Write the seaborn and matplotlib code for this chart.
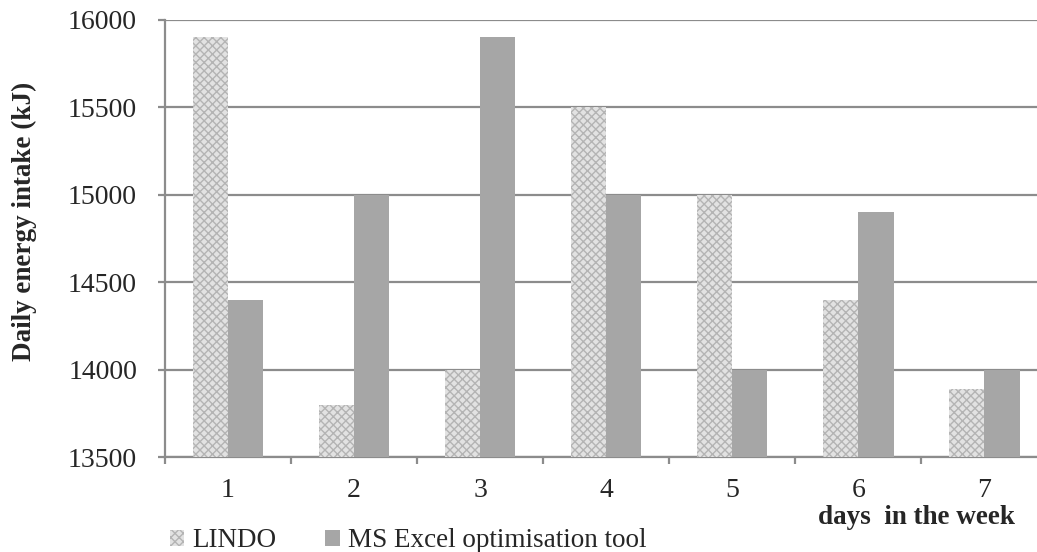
import pandas as pd
import matplotlib
matplotlib.use("Agg")
import matplotlib.pyplot as plt
import seaborn as sns
from matplotlib.patches import Patch

days = ["1", "2", "3", "4", "5", "6", "7"]
lindo = [15900, 13800, 14000, 15500, 15000, 14400, 13890]
excel = [14400, 15000, 15900, 15000, 14000, 14900, 14000]
series_names = ["LINDO", "MS Excel optimisation tool"]
y_ticks = [13500, 14000, 14500, 15000, 15500, 16000]


def main():
    sns.set_style("white")
    plt.rcParams["font.family"] = ["Liberation Serif", "DejaVu Serif"]
    plt.rcParams["hatch.linewidth"] = 1.0

    df = pd.DataFrame({
        "day": days * 2,
        "value": lindo + excel,
        "series": [series_names[0]] * 7 + [series_names[1]] * 7,
    })

    fig = plt.figure(figsize=(10.37, 5.52), dpi=100)
    ax = fig.add_axes([0.159, 0.172, 0.851, 0.792])

    sns.barplot(data=df, x="day", y="value", hue="series",
                palette=["#e2e2e2", "#a6a6a6"], width=0.56,
                saturation=1, legend=False, ax=ax, zorder=3)

    # LINDO bars get the crosshatch pattern
    for bar in ax.patches[:7]:
        bar.set_hatch("xxxx")
        bar.set_edgecolor("#b4b4b4")
        bar.set_linewidth(0)
    for bar in ax.patches[7:]:
        bar.set_linewidth(0)

    ax.set_ylim(13500, 16000)
    ax.set_xlim(-0.5, 6.5)
    ax.set_yticks(y_ticks)
    ax.yaxis.grid(True, color="#8c8c8c", linewidth=1.6, zorder=0)
    ax.set_axisbelow(True)

    for s in ["top", "right"]:
        ax.spines[s].set_visible(False)
    for s in ["left", "bottom"]:
        ax.spines[s].set_color("#8c8c8c")
        ax.spines[s].set_linewidth(1.6)

    # ticks between categories like the original
    ax.set_xticks([i - 0.5 for i in range(7)], minor=False)
    ax.set_xticklabels([])
    ax.set_xticks(range(7), minor=True)
    ax.set_xticklabels(days, minor=True)
    ax.tick_params(axis="x", which="major", length=5, width=1.6,
                   color="#8c8c8c", direction="out", bottom=True)
    ax.tick_params(axis="x", which="minor", length=0, labelsize=20, pad=15)
    ax.tick_params(axis="y", length=5, width=1.6, color="#8c8c8c",
                   direction="out", left=True, labelsize=20, pad=15)

    ax.set_xlabel("")
    ax.set_ylabel("Daily energy intake (kJ)", fontsize=19.5, fontweight="bold")
    ax.yaxis.set_label_coords(-0.145, 0.54)
    fig.text(0.979, 0.062, "days  in the week", fontsize=19.5, fontweight="bold",
             ha="right", va="center")

    handles = [Patch(facecolor="#e2e2e2", hatch="xxxx", edgecolor="#b4b4b4", linewidth=0),
               Patch(facecolor="#a6a6a6", linewidth=0)]
    fig.legend(handles, series_names, loc="center left",
               bbox_to_anchor=(0.14, 0.02), ncol=2, frameon=False,
               fontsize=19.5, handlelength=0.55, handleheight=0.55,
               handletextpad=0.3, columnspacing=1.8)

    fig.savefig("out.png", dpi=100)


if __name__ == "__main__":
    main()
